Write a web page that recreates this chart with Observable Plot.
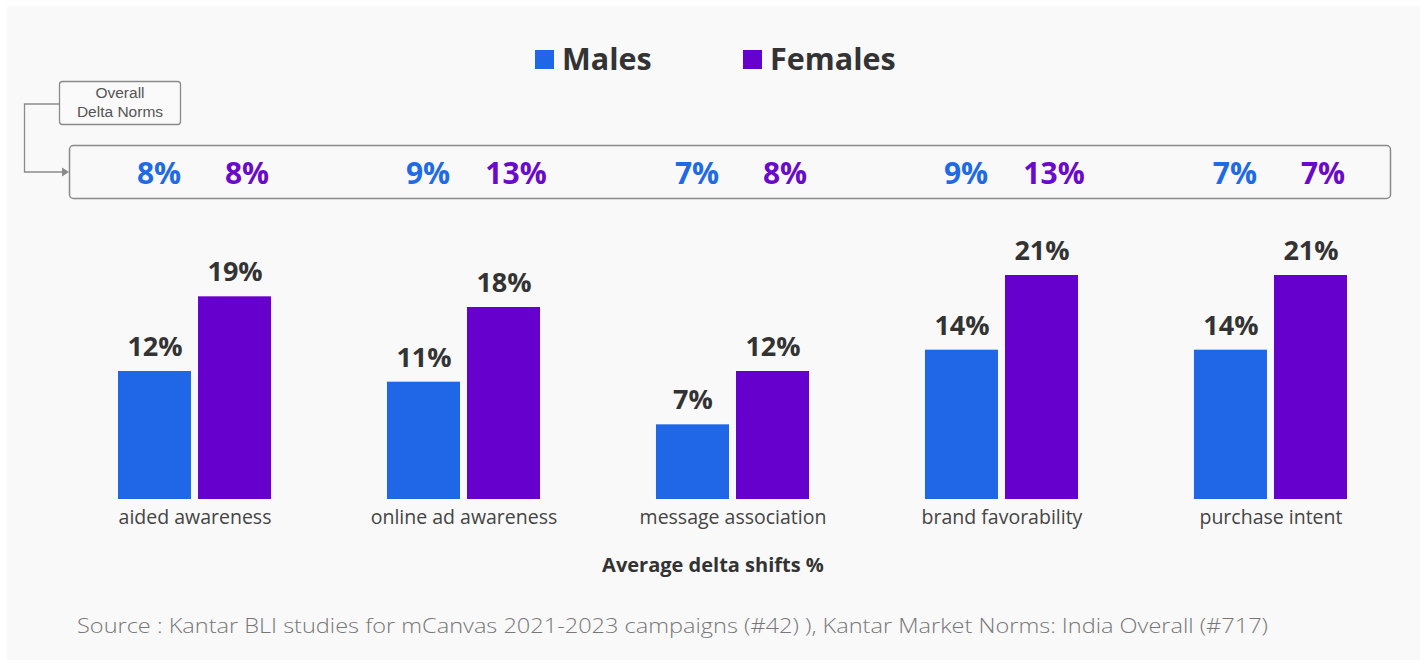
<!DOCTYPE html>
<html><head><meta charset="utf-8">
<script src="https://cdn.jsdelivr.net/npm/d3@7"></script>
<script src="https://cdn.jsdelivr.net/npm/@observablehq/plot@0.6"></script>
<style>
body{margin:0;background:#fff;}
#chart{width:1426px;height:666px;}
</style></head>
<body><div id="chart"></div>
<script>
const metrics = ["aided awareness","online ad awareness","message association","brand favorability","purchase intent"];
const genders = ["Males","Females"];
const maleShifts = [12,11,7,14,14];
const femaleShifts = [19,18,12,21,21];
const maleNorms = [8,9,7,9,7];
const femaleNorms = [8,13,8,13,7];
const colors = ["#1f67e6","#6600cc"];
const normColors = ["#1f6ae6","#6a0acc"];

const data = [];
metrics.forEach((m,i)=>{
  data.push({metric:m, gender:"Males", value:maleShifts[i], norm:maleNorms[i]});
  data.push({metric:m, gender:"Females", value:femaleShifts[i], norm:femaleNorms[i]});
});
const mData = data.filter(d=>d.gender==="Males");
const fData = data.filter(d=>d.gender==="Females");

const FONT = "'Open Sans', sans-serif";

const svg = Plot.plot({
  width:1426, height:666,
  marginLeft:118, marginRight:79, marginTop:179, marginBottom:167,
  style:{background:"transparent", fontFamily:FONT, overflow:"visible"},
  fx:{domain:metrics, paddingInner:0.431, paddingOuter:0, round:false, label:null, axis:null},
  x:{domain:genders, paddingInner:0.0875, paddingOuter:0, round:false, axis:null},
  y:{domain:[0,30], axis:null},
  color:{domain:genders, range:colors},
  marks:[
    Plot.barY(data,{fx:"metric", x:"gender", y:"value", fill:"gender"}),
    Plot.text(data,{fx:"metric", x:"gender", y:"value", text:d=>d.value+"%", dy:-24, fontSize:27, fontWeight:700, fill:"#333"}),
    Plot.text(mData,{fx:"metric", x:"gender", frameAnchor:"top", text:d=>d.norm+"%", dy:-17, dx:4, fontSize:30, fontWeight:700, fill:normColors[0]}),
    Plot.text(fData,{fx:"metric", x:"gender", frameAnchor:"top", text:d=>d.norm+"%", dy:-17, dx:12, fontSize:30, fontWeight:700, fill:normColors[1]}),
    Plot.axisFx({anchor:"bottom", tickSize:0, tickPadding:11, fontSize:19.5, fill:"#444", label:null})
  ]
});
document.getElementById("chart").appendChild(svg);

const s = d3.select(svg);
// panel background
s.insert("rect", ":first-child").attr("x",7).attr("y",6).attr("width",1413).attr("height",654).attr("fill","#f9f9f9");

// legend
const leg = s.append("g").attr("font-family",FONT).attr("font-weight",700).attr("font-size",30.5).attr("fill","#333").attr("text-anchor","start");
const legX = [535, 743];
genders.forEach((g,i)=>{
  leg.append("rect").attr("x",legX[i]).attr("y",50).attr("width",19).attr("height",19).attr("fill",colors[i]);
  leg.append("text").attr("x",legX[i]+27).attr("y",70).text(g);
});

// norms box
s.append("rect").attr("x",69.5).attr("y",145.5).attr("width",1321).attr("height",53).attr("rx",4)
  .attr("fill","none").attr("stroke","#8a8a8a").attr("stroke-width",1.5);
// label box
s.append("rect").attr("x",59.5).attr("y",81.5).attr("width",121).attr("height",43).attr("rx",3)
  .attr("fill","#fafafa").attr("stroke","#8a8a8a").attr("stroke-width",1.3);
const lt = s.append("text").attr("font-family","'Liberation Sans', Arial, sans-serif").attr("font-size",15.5).attr("fill","#555").attr("text-anchor","middle");
lt.append("tspan").attr("x",120).attr("y",98).text("Overall");
lt.append("tspan").attr("x",120).attr("y",117).text("Delta Norms");
// connector
s.append("path").attr("d","M59.5,104 H24.5 V172 H63").attr("fill","none").attr("stroke","#8a8a8a").attr("stroke-width",1.3);
s.append("path").attr("d","M62,167.5 L69,172 L62,176.5 Z").attr("fill","#8a8a8a");

// x title
s.append("text").attr("x",713).attr("y",572).attr("text-anchor","middle").attr("font-family",FONT)
  .attr("font-weight",700).attr("font-size",20).attr("fill","#333").text("Average delta shifts %");
// source
s.append("text").attr("x",77).attr("y",633).attr("text-anchor","start").attr("font-family",FONT)
  .attr("font-weight",300).attr("font-size",21).attr("fill","#777")
  .attr("textLength",1191).attr("lengthAdjust","spacingAndGlyphs")
  .text("Source : Kantar BLI studies for mCanvas 2021-2023 campaigns (#42) ), Kantar Market Norms: India Overall (#717)");
</script>
</body></html>
